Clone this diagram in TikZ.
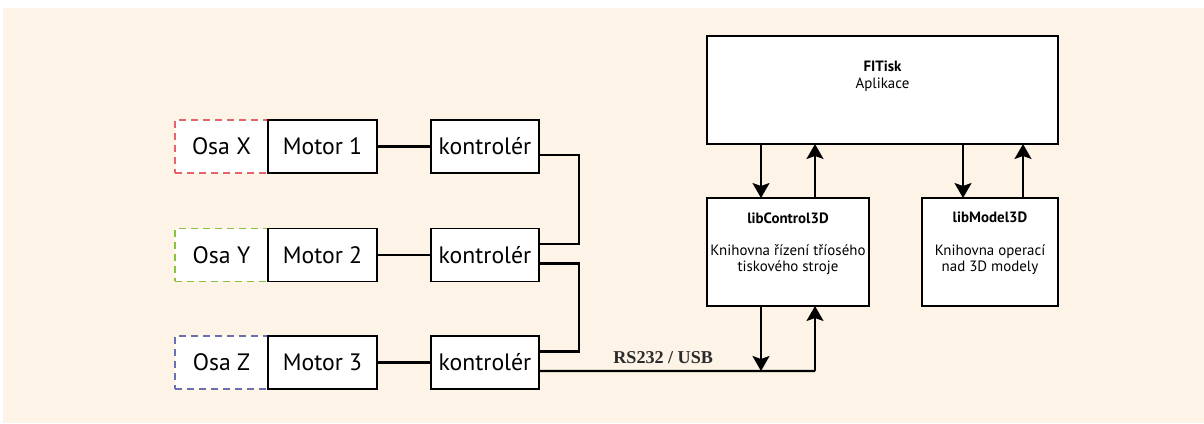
\documentclass[tikz,border=0pt]{standalone}
\usepackage{fontspec}
\setmainfont{PT Sans}
\newfontfamily\rsfont{Liberation Serif}
\usetikzlibrary{arrows.meta, positioning, calc}
\definecolor{Cream}{HTML}{FDF3E6}
\definecolor{AxisRed}{HTML}{E8626A}
\definecolor{AxisGreen}{HTML}{86C440}
\definecolor{AxisBlue}{HTML}{6A6FB2}
\definecolor{TxtDark}{HTML}{2B2B2B}

\tikzset{
  blok/.style={draw=black, fill=white, line width=1.1pt, inner sep=0pt, outer sep=0pt,
               minimum height=1.06cm, font=\fontsize{13.5}{16}\selectfont},
  osa/.style={blok, draw=#1, line width=0.9pt, dash pattern=on 0.14cm off 0.1cm,
              minimum width=1.86cm},
  lib/.style={draw=black, fill=white, line width=1.1pt, inner sep=0pt, outer sep=0pt,
              minimum height=2.16cm},
  libtext/.style={anchor=north, inner sep=0pt, align=center,
                  font=\fontsize{8.5}{9.2}\selectfont},
  spoj/.style={line width=1.2pt},
  sipka/.style={spoj, -{Stealth[length=3mm, width=3.4mm, inset=0.6mm]}},
}

\begin{document}
\begin{tikzpicture}[x=0.02cm, y=-0.02cm]
  \useasboundingbox (0,0) rectangle (1204,423);
  \fill[Cream] (3,8) rectangle (1204,423);

  % osy, motory, kontrolery
  \node[osa=AxisRed] (osax) at (221.5,146.5) {Osa X};
  \node[blok, minimum width=2.18cm, right=0pt of osax] (motor1) {Motor 1};
  \node[blok, minimum width=2.16cm, right=1.08cm of motor1] (kontroler1) {kontrolér};

  \node[osa=AxisGreen] (osay) at (221.5,255) {Osa Y};
  \node[blok, minimum width=2.18cm, right=0pt of osay] (motor2) {Motor 2};
  \node[blok, minimum width=2.16cm, right=1.08cm of motor2] (kontroler2) {kontrolér};

  \node[osa=AxisBlue] (osaz) at (221.5,362.5) {Osa Z};
  \node[blok, minimum width=2.18cm, right=0pt of osaz] (motor3) {Motor 3};
  \node[blok, minimum width=2.16cm, right=1.08cm of motor3] (kontroler3) {kontrolér};

  % aplikace a knihovny
  \node[lib, minimum width=7.02cm,
        label={[libtext, yshift=-0.5cm]north:{\textbf{FITisk}\\Aplikace}}]
        (fitisk) at (882.5,90) {};
  \node[lib, minimum width=3.24cm,
        label={[libtext, yshift=-0.28cm]north:{\textbf{libControl3D}\\[9.2pt]Knihovna řízení tříosého\\tiskového stroje}}]
        (libcontrol) at (788,252) {};
  \node[lib, minimum width=2.72cm,
        label={[libtext, yshift=-0.28cm]north:{\textbf{libModel3D}\\[9.2pt]Knihovna operací\\nad 3D modely}}]
        (libmodel) at (990,252) {};

  % spoje
  \draw[spoj] (motor1) -- (kontroler1);
  \draw[spoj] (motor2) -- (kontroler2);
  \draw[spoj] (motor3) -- (kontroler3);
  \draw[spoj] ([yshift=-0.17cm]kontroler1.east) -- ++(40,0) |- ([yshift=0.22cm]kontroler2.east);
  \draw[spoj] ([yshift=-0.17cm]kontroler2.east) -- ++(40,0) |- ([yshift=0.22cm]kontroler3.east);

  \coordinate (rsdolu) at (761,371);
  \coordinate (rsnahoru) at (815,371);
  \draw[spoj] ([yshift=-0.17cm]kontroler3.east) --
    node[pos=0.45, above=0.12cm, inner sep=0pt, text=TxtDark,
         font=\rsfont\bfseries\fontsize{10.3}{12}\selectfont] (rslabel) {RS232 / USB} (rsnahoru);
  \draw[sipka] (rsdolu |- libcontrol.south) -- (rsdolu);
  \draw[sipka] (rsnahoru) -- (rsnahoru |- libcontrol.south);

  \coordinate (cdolu) at ([xshift=-0.54cm]libcontrol.north);
  \coordinate (cnahoru) at ([xshift=0.54cm]libcontrol.north);
  \coordinate (mdolu) at ([xshift=-0.54cm]libmodel.north);
  \coordinate (mnahoru) at ([xshift=0.66cm]libmodel.north);
  \draw[sipka] (fitisk.south -| cdolu) -- (cdolu);
  \draw[sipka] (cnahoru) -- (fitisk.south -| cnahoru);
  \draw[sipka] (fitisk.south -| mdolu) -- (mdolu);
  \draw[sipka] (mnahoru) -- (fitisk.south -| mnahoru);
\end{tikzpicture}
\end{document}
